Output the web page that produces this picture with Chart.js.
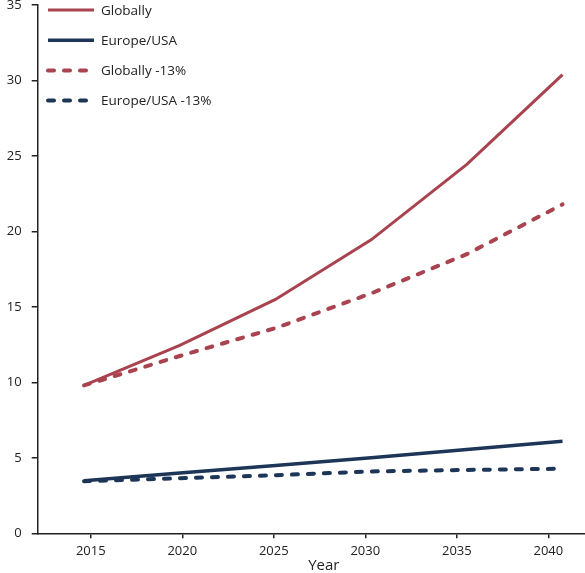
<!DOCTYPE html>
<html>
<head>
<title>Year chart</title>
<script src="https://cdn.jsdelivr.net/npm/chart.js"></script>
<style>
body {
    margin:0;
    background:white;
    overflow:hidden;
    width:585px;
    height:573px;
}
/* canvas is a bit larger than the window: top and right are cropped like the source */
canvas { display:block; margin-top:-10px; }
</style>
</head>
<body>

<canvas id="chart" width="610" height="583"></canvas>

<script>
// ---------------- DATA ----------------
const years = [2015, 2020, 2025, 2030, 2035, 2040];
const globally = [9.8, 12.45, 15.5, 19.45, 24.45, 30.4];
const europe = [3.48, 4.0, 4.5, 5.0, 5.55, 6.1];
const globally13 = [9.8, 11.75, 13.6, 15.9, 18.5, 21.8];
const europe13 = [3.45, 3.65, 3.85, 4.1, 4.2, 4.28];

const xTicks = [2015, 2020, 2025, 2030, 2035, 2040];
const yTicks = [0, 5, 10, 15, 20, 25, 30, 35];

const RED = "#a8434f";
const BLUE = "#1d3557";
const AXIS = "#222";
const SHIFT = 10; // canvas offset above the window

function pts(vals){
    return years.map((y,i)=>({x:y, y:vals[i]}));
}

// ---------------- LEGEND (column, top left) ----------------
const sideLegend = {
    id:"sideLegend",
    afterDraw(chart){
        const ctx = chart.ctx;
        chart.data.datasets.forEach((ds,i)=>{
            const y = SHIFT + 10 + i*30.2;
            ctx.save();
            ctx.strokeStyle = ds.borderColor;
            ctx.lineWidth = ds.borderWidth;
            ctx.lineCap = ds.borderCapStyle || "butt";
            ctx.setLineDash(ds.borderDash || []);
            ctx.beginPath();
            ctx.moveTo(48,y);
            ctx.lineTo(94,y);
            ctx.stroke();
            ctx.restore();

            ctx.fillStyle = AXIS;
            ctx.font = '13.5px "Open Sans"';
            ctx.textBaseline = "middle";
            ctx.fillText(ds.label, 101, y+1);
        });
    }
};

// ---------------- CHART ----------------
new Chart(document.getElementById("chart"), {
    type:"line",
    data:{
        datasets:[
            {label:"Globally", data:pts(globally), borderColor:RED, borderWidth:3, xAxisID:"x"},
            {label:"Europe/USA", data:pts(europe), borderColor:BLUE, borderWidth:3.5, xAxisID:"x"},
            {label:"Globally -13%", data:pts(globally13), borderColor:RED, borderWidth:4,
             borderDash:[6,10], borderCapStyle:"round", xAxisID:"x"},
            {label:"Europe/USA -13%", data:pts(europe13), borderColor:BLUE, borderWidth:4,
             borderDash:[6,10], borderCapStyle:"round", xAxisID:"x"}
        ]
    },
    options:{
        responsive:false,
        animation:false,
        devicePixelRatio:1,
        layout:{ padding:0 },
        elements:{ point:{ radius:0 }, line:{ tension:0 } },
        plugins:{ legend:{ display:false }, tooltip:{ enabled:false } },
        scales:{
            // data scale (hidden)
            x:{
                type:"linear",
                display:false,
                min:2012.58,
                max:2042.48
            },
            // visible year axis
            xt:{
                type:"linear",
                position:"bottom",
                min:2012.1,
                max:2043.37,
                afterBuildTicks: s => { s.ticks = xTicks.map(v=>({value:v})); },
                afterFit: s => { s.height = 39.7; },
                ticks:{
                    color:AXIS,
                    padding:5,
                    maxRotation:0,
                    font:{family:"Open Sans", size:13},
                    callback: v => String(v)
                },
                grid:{ drawOnChartArea:false, drawTicks:true, tickLength:5, color:AXIS, lineWidth:1.5 },
                border:{ display:true, color:AXIS, width:1.5 },
                title:{
                    display:true,
                    text:"Year",
                    color:AXIS,
                    padding:0,
                    font:{family:"Open Sans", size:15, lineHeight:1}
                }
            },
            y:{
                min:0,
                max:35,
                afterBuildTicks: s => { s.ticks = yTicks.map(v=>({value:v})); },
                afterFit: s => { s.width = 37.7; },
                ticks:{
                    color:AXIS,
                    padding:10,
                    font:{family:"Open Sans", size:13, lineHeight:0.8}
                },
                grid:{ drawOnChartArea:false, drawTicks:true, tickLength:6, color:AXIS, lineWidth:1.5 },
                border:{ display:true, color:AXIS, width:1.5 }
            }
        }
    },
    plugins:[sideLegend]
});
</script>

</body>
</html>
